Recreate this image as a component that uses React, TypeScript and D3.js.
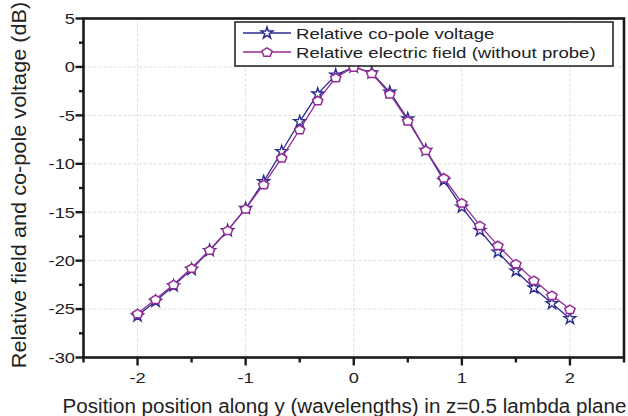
import React from 'react';
import * as d3 from 'd3';

const positions = [-2, -1.8333, -1.6667, -1.5, -1.3333, -1.1667, -1, -0.8333, -0.6667, -0.5, -0.3333, -0.1667, 0, 0.1667, 0.3333, 0.5, 0.6667, 0.8333, 1, 1.1667, 1.3333, 1.5, 1.6667, 1.8333, 2];
const coPoleVoltage = [-25.7, -24.2, -22.6, -20.9, -18.95, -16.9, -14.6, -11.85, -8.73, -5.64, -2.78, -0.83, 0, -0.6, -2.6, -5.35, -8.6, -11.72, -14.47, -16.88, -19.11, -21.07, -22.82, -24.43, -25.98];
const electricField = [-25.46, -23.99, -22.47, -20.76, -18.9, -16.87, -14.64, -12.13, -9.38, -6.46, -3.47, -1.1, 0, -0.66, -2.78, -5.55, -8.6, -11.45, -14.02, -16.36, -18.42, -20.31, -22.03, -23.58, -25.02];
const xTicks = [-2, -1, 0, 1, 2];
const xMinorTicks = [-2.5, -1.5, -0.5, 0.5, 1.5, 2.5];
const yTicks = [5, 0, -5, -10, -15, -20, -25, -30];
const yMinorTicks = [2.5, -2.5, -7.5, -12.5, -17.5, -22.5, -27.5];
const seriesNames = ['Relative co-pole voltage', 'Relative electric field (without probe)'];
const xTitle = 'Position position along y (wavelengths) in z=0.5 lambda plane';
const yTitle = 'Relative field and co-pole voltage (dB)';

const W = 628, H = 416;
const L = 83.5, R = 624, T = 18.5, B = 357.5;
const VOLT = '#2b2d8e';
const FIELD = '#952b95';
const FONT = '"Liberation Sans", Arial, Helvetica, sans-serif';

const x = d3.scaleLinear().domain([-2.5, 2.5]).range([L, R]);
const y = d3.scaleLinear().domain([-30, 5]).range([B, T]);

const starPath = d3.symbol().type(d3.symbolStar).size(42)()!;
const pentagonPath = (() => {
  const r = 5.4;
  const pts: [number, number][] = d3.range(5).map(i => {
    const a = -Math.PI / 2 + (i * 2 * Math.PI) / 5;
    return [r * Math.cos(a), r * Math.sin(a) * 0.85 + 0.5];
  });
  return 'M' + pts.map(p => p.join(',')).join('L') + 'Z';
})();

function SText(props: { x: number; y: number; anchor?: string; size: number; sx?: number; children: React.ReactNode; rotate?: number }) {
  const { x: tx, y: ty, anchor = 'start', size, sx = 1.2, children, rotate = 0 } = props;
  return (
    <text
      transform={`translate(${tx},${ty}) rotate(${rotate}) scale(${sx},1)`}
      textAnchor={anchor}
      fontSize={size}
      fontFamily={FONT}
      fill="#222"
    >
      {children}
    </text>
  );
}

export default function App() {
  const line = d3.line<number>().x((_, i) => x(positions[i])).y(d => y(d));
  return (
    <svg width={W} height={H} style={{ position: 'absolute', left: 0, top: 0, background: '#fff' }}>
      <rect x={0} y={0} width={W} height={H} fill="#fff" />
      {/* grid */}
      {xTicks.map(t => (
        <line key={'gx' + t} x1={x(t)} x2={x(t)} y1={T} y2={B} stroke="#dcdcdc" strokeWidth={1} strokeDasharray="3,2" />
      ))}
      {yTicks.filter(t => t > -30 && t < 5).map(t => (
        <line key={'gy' + t} x1={L} x2={R} y1={y(t)} y2={y(t)} stroke="#dcdcdc" strokeWidth={1} strokeDasharray="3,2" />
      ))}
      {/* series */}
      <path d={line(coPoleVoltage)!} fill="none" stroke={VOLT} strokeWidth={1.3} />
      {coPoleVoltage.map((v, i) => (
        <path key={'s' + i} d={starPath} transform={`translate(${x(positions[i])},${y(v)})`} fill="#fff" stroke={VOLT} strokeWidth={1.4} />
      ))}
      <path d={line(electricField)!} fill="none" stroke={FIELD} strokeWidth={1.3} />
      {electricField.map((v, i) => (
        <path key={'p' + i} d={pentagonPath} transform={`translate(${x(positions[i])},${y(v)})`} fill="#fff" stroke={FIELD} strokeWidth={1.5} />
      ))}
      {/* frame */}
      <rect x={L} y={T} width={R - L} height={B - T} fill="none" stroke="#1a1a1a" strokeWidth={2.6} />
      {/* y ticks */}
      {yTicks.map(t => (
        <g key={'yt' + t}>
          <line x1={L - 8} x2={L} y1={y(t)} y2={y(t)} stroke="#1a1a1a" strokeWidth={2.4} />
          <SText x={L - 8.5} y={y(t) + 5.3} anchor="end" size={15} sx={1.22}>{t}</SText>
        </g>
      ))}
      {yMinorTicks.map(t => (
        <line key={'ym' + t} x1={L - 4.5} x2={L} y1={y(t)} y2={y(t)} stroke="#1a1a1a" strokeWidth={2.4} />
      ))}
      {/* x ticks */}
      {xTicks.map(t => (
        <g key={'xt' + t}>
          <line x1={x(t)} x2={x(t)} y1={B} y2={B + 8} stroke="#1a1a1a" strokeWidth={2.4} />
          <SText x={x(t)} y={383.3} anchor="middle" size={15} sx={1.22}>{t}</SText>
        </g>
      ))}
      {xMinorTicks.map(t => (
        <line key={'xm' + t} x1={x(t)} x2={x(t)} y1={B} y2={B + 5} stroke="#1a1a1a" strokeWidth={2.4} />
      ))}
      {/* titles */}
      <SText x={344.5} y={412.7} anchor="middle" size={20} sx={1.03}>{xTitle}</SText>
      <SText x={26} y={185} anchor="middle" size={20} sx={1.085} rotate={-90}>{yTitle}</SText>
      {/* legend */}
      <rect x={235} y={22} width={378} height={44} fill="#fff" stroke="#1a1a1a" strokeWidth={1.5} />
      {[0, 1].map(i => {
        const cy = i === 0 ? 33 : 52;
        const col = i === 0 ? VOLT : FIELD;
        return (
          <g key={'lg' + i}>
            <line x1={243} x2={291} y1={cy} y2={cy} stroke={col} strokeWidth={1.3} />
            <path d={i === 0 ? starPath : pentagonPath} transform={`translate(267,${cy})`} fill="#fff" stroke={col} strokeWidth={1.5} />
            <SText x={296} y={cy + 5.5} size={15.5}>{seriesNames[i]}</SText>
          </g>
        );
      })}
    </svg>
  );
}
